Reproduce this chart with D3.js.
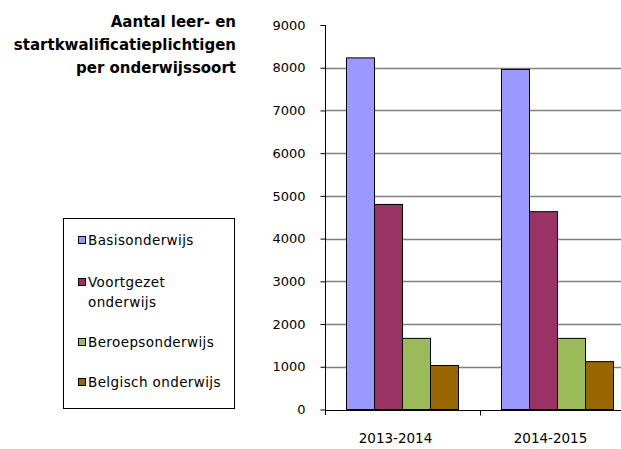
<!DOCTYPE html>
<html>
<head>
<meta charset="utf-8">
<script src="https://cdn.jsdelivr.net/npm/d3@7"></script>
<style>
  body { margin: 0; background: #fff; }
  svg { display: block; font-family: "DejaVu Sans", sans-serif; }
</style>
</head>
<body>
<div id="chart"></div>
<script>
  const categories = ["2013-2014", "2014-2015"];
  const seriesNames = ["Basisonderwijs", "Voortgezet onderwijs", "Beroepsonderwijs", "Belgisch onderwijs"];
  const basis = [8230, 7960];
  const voortgezet = [4800, 4630];
  const beroeps = [1665, 1665];
  const belgisch = [1030, 1120];
  const yTicks = [0, 1000, 2000, 3000, 4000, 5000, 6000, 7000, 8000, 9000];
  const titleLines = ["Aantal leer- en", "startkwalificatieplichtigen", "per onderwijssoort"];
  const legendLines = [["Basisonderwijs"], ["Voortgezet", "onderwijs"], ["Beroepsonderwijs"], ["Belgisch onderwijs"]];
  const colors = ["#9999ff", "#993366", "#9bbb59", "#996600"];

  const values = [basis, voortgezet, beroeps, belgisch];
  const width = 621, height = 449;

  const svg = d3.select("#chart").append("svg")
    .attr("width", width)
    .attr("height", height);

  const x0 = d3.scaleBand().domain(categories).range([325, 635]);
  const x1 = d3.scaleBand().domain(seriesNames).range([21, 133]);
  const y = d3.scaleLinear().domain([0, 9000]).range([409.5, 25]);

  // gridlines
  svg.append("g")
    .selectAll("line")
    .data(yTicks.filter(t => t > 0 && t < 9000))
    .join("line")
    .attr("x1", 325).attr("x2", width)
    .attr("y1", d => Math.round(y(d)) + 0.5)
    .attr("y2", d => Math.round(y(d)) + 0.5)
    .attr("stroke", "#808080")
    .attr("stroke-width", 1.3);

  // bars
  const groups = svg.append("g")
    .selectAll("g")
    .data(categories)
    .join("g")
    .attr("transform", d => `translate(${x0(d)},0)`);

  groups.selectAll("rect")
    .data((c, i) => seriesNames.map((s, k) => ({ s, v: values[k][i], k })))
    .join("rect")
    .attr("x", d => x1(d.s) + 0.5)
    .attr("width", x1.bandwidth())
    .attr("y", d => y(d.v))
    .attr("height", d => y(0) - y(d.v))
    .attr("fill", d => colors[d.k])
    .attr("stroke", "#000")
    .attr("stroke-width", 1);

  // y axis
  const yAxis = svg.append("g")
    .attr("transform", "translate(325.5,0)")
    .call(d3.axisLeft(y).tickValues(yTicks).tickSize(5).tickFormat(d3.format("d")));
  yAxis.select(".domain").attr("d", `M0,${y(9000)}V415`).attr("stroke", "#000");
  yAxis.selectAll(".tick line").attr("stroke", "#000");
  yAxis.selectAll(".tick text")
    .attr("x", -20)
    .attr("font-size", 13)
    .attr("font-family", "DejaVu Sans")
    .attr("fill", "#000");

  // x axis
  const xAxis = svg.append("g")
    .attr("transform", `translate(0,${Math.round(y(0)) + 0.5})`);
  xAxis.append("line")
    .attr("x1", 325).attr("x2", width)
    .attr("stroke", "#000");
  xAxis.selectAll(".ctick")
    .data(categories.slice(1))
    .join("line")
    .attr("x1", d => Math.round(x0(d)) + 0.5)
    .attr("x2", d => Math.round(x0(d)) + 0.5)
    .attr("y1", 0).attr("y2", 5)
    .attr("stroke", "#000");
  xAxis.selectAll("text")
    .data(categories)
    .join("text")
    .attr("x", d => x0(d) + x0.bandwidth() / 2 - 7)
    .attr("y", 32)
    .attr("text-anchor", "middle")
    .attr("font-size", 13.5)
    .text(d => d);

  // title
  svg.append("g")
    .selectAll("text")
    .data(titleLines)
    .join("text")
    .attr("x", 236)
    .attr("y", (d, i) => 27 + i * 23)
    .attr("text-anchor", "end")
    .attr("font-size", 15)
    .attr("font-weight", "bold")
    .text(d => d);

  // legend
  const legend = svg.append("g");
  legend.append("rect")
    .attr("x", 63.5).attr("y", 218.5)
    .attr("width", 171).attr("height", 190)
    .attr("fill", "#fff")
    .attr("stroke", "#000");

  const rowY = [240, 282, 342, 382];
  const items = legend.selectAll("g")
    .data(seriesNames)
    .join("g")
    .attr("transform", (d, i) => `translate(0,${rowY[i]})`);
  items.append("rect")
    .attr("x", 78.5).attr("y", -3.5)
    .attr("width", 7).attr("height", 7)
    .attr("fill", (d, i) => colors[i])
    .attr("stroke", "#000");
  items.selectAll("text")
    .data((d, i) => legendLines[i])
    .join("text")
    .attr("x", 88)
    .attr("y", (d, j) => 5 + j * 20)
    .attr("font-size", 13.5)
    .attr("letter-spacing", 0.4)
    .text(d => d);
</script>
</body>
</html>
